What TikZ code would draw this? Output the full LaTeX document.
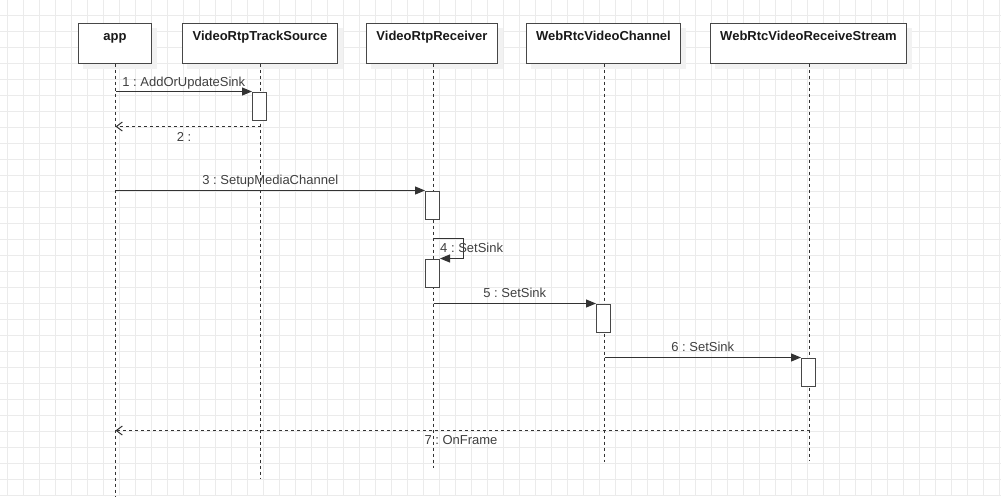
\documentclass[tikz,border=0pt]{standalone}
\usepackage{fontspec}
\setmainfont{Liberation Sans}
\usetikzlibrary{arrows.meta,backgrounds}
\frenchspacing

\begin{document}
\begin{tikzpicture}[x=1pt,y=-1pt,
	gridline/.style={draw=black!8,line width=1pt},
	shadowfill/.style={fill=black!5},
	participant/.style={draw=black!72,line width=1pt,fill=white,minimum width=#1,inner xsep=0pt,inner ysep=0pt,
		text height=17pt,text depth=23pt,anchor=north,text=black!90,font=\bfseries\fontsize{13}{15}\selectfont},
	lifeline/.style={draw=black!80,line width=1pt,dash pattern=on 3pt off 3pt},
	act/.style={draw=black!72,line width=1pt,fill=white,minimum width=14pt,minimum height=28pt,inner sep=0pt,anchor=north},
	msg/.style={draw=black!80,line width=1pt,-{Triangle[length=10pt,width=8pt]}},
	ret/.style={draw=black!80,line width=1pt,dash pattern=on 3pt off 3pt,-{Straight Barb[length=6pt,width=9pt]}},
	lbl/.style={font=\fontsize{13}{15}\selectfont,text=black!75,inner sep=0pt}]
	
	\useasboundingbox (0,0) rectangle (1001,496);
	
	%participants
	\node[participant=73]  (app)  at (115,22.5)   {app};
	\node[participant=155] (vrts) at (260,22.5)   {VideoRtpTrackSource};
	\node[participant=131] (vrr)  at (432,22.5)   {VideoRtpReceiver};
	\node[participant=154] (wvc)  at (603.5,22.5) {WebRtcVideoChannel};
	\node[participant=196] (wvrs) at (808.5,22.5) {WebRtcVideoReceiveStream};
	
	%background, grid and shadows
	\begin{scope}[on background layer]
		\fill[white] (0,0) rectangle (1001,496);
		\foreach \gx in {0,...,62} \draw[gridline] (7.5+16*\gx,0) -- (7.5+16*\gx,496);
		\foreach \gy in {0,...,30} \draw[gridline] (0,15.5+16*\gy) -- (1001,15.5+16*\gy);
		\foreach \p in {app,vrts,vrr,wvc,wvrs}
			\fill[shadowfill] ([shift={(5,5)}]\p.north west) rectangle ([shift={(5,5)}]\p.south east);
	\end{scope}
	
	%lifelines
	\coordinate (app end)  at (115.5,496);
	\coordinate (vrts end) at (260.5,479);
	\coordinate (vrr end)  at (433.5,468);
	\coordinate (wvc end)  at (604.5,462);
	\coordinate (wvrs end) at (809.5,461);
	\foreach \p in {app,vrts,vrr,wvc,wvrs}
		\draw[lifeline] (\p\space end |- \p.south) -- (\p\space end);
	
	%activations
	\node[act] (act1) at (259.5,91.5)  {};
	\node[act] (act2) at (432.5,190.5) {};
	\node[act] (act3) at (432.5,258.5) {};
	\node[act] (act4) at (603.5,303.5) {};
	\node[act] (act5) at (808.5,357.5) {};
	
	%messages
	\draw[msg] (app end |- act1.north) -- (act1.north west) node[lbl,midway,anchor=base,yshift=5.5pt] {1 : AddOrUpdateSink};
	\draw[ret] (vrts end |- 0,126.5) -- (app end |- 0,126.5) node[lbl,midway,anchor=base,xshift=-4pt,yshift=-15pt] {2 :};
	\draw[msg] (app end |- act2.north) -- (act2.north west) node[lbl,midway,anchor=base,yshift=6pt] {3 : SetupMediaChannel};
	\draw[msg] (vrr end |- 0,238.5) -- (463.5,238.5) -- (463.5,258.5) -- (act3.north east);
	\node[lbl,anchor=base west] (self lbl) at (440,252) {4 : SetSink};
	\draw[msg] (vrr end |- act4.north) -- (act4.north west) node[lbl,midway,anchor=base,yshift=6pt] {5 : SetSink};
	\draw[msg] (wvc end |- act5.north) -- (act5.north west) node[lbl,midway,anchor=base,yshift=6pt] {6 : SetSink};
	\draw[ret] (wvrs end |- 0,430.5) -- (app end |- 0,430.5) node[lbl,midway,anchor=base,xshift=-1.5pt,yshift=-13.5pt] {7 : OnFrame};
	
	%\draw[help lines] (0,0) grid (1001,496);
\end{tikzpicture}
\end{document}
